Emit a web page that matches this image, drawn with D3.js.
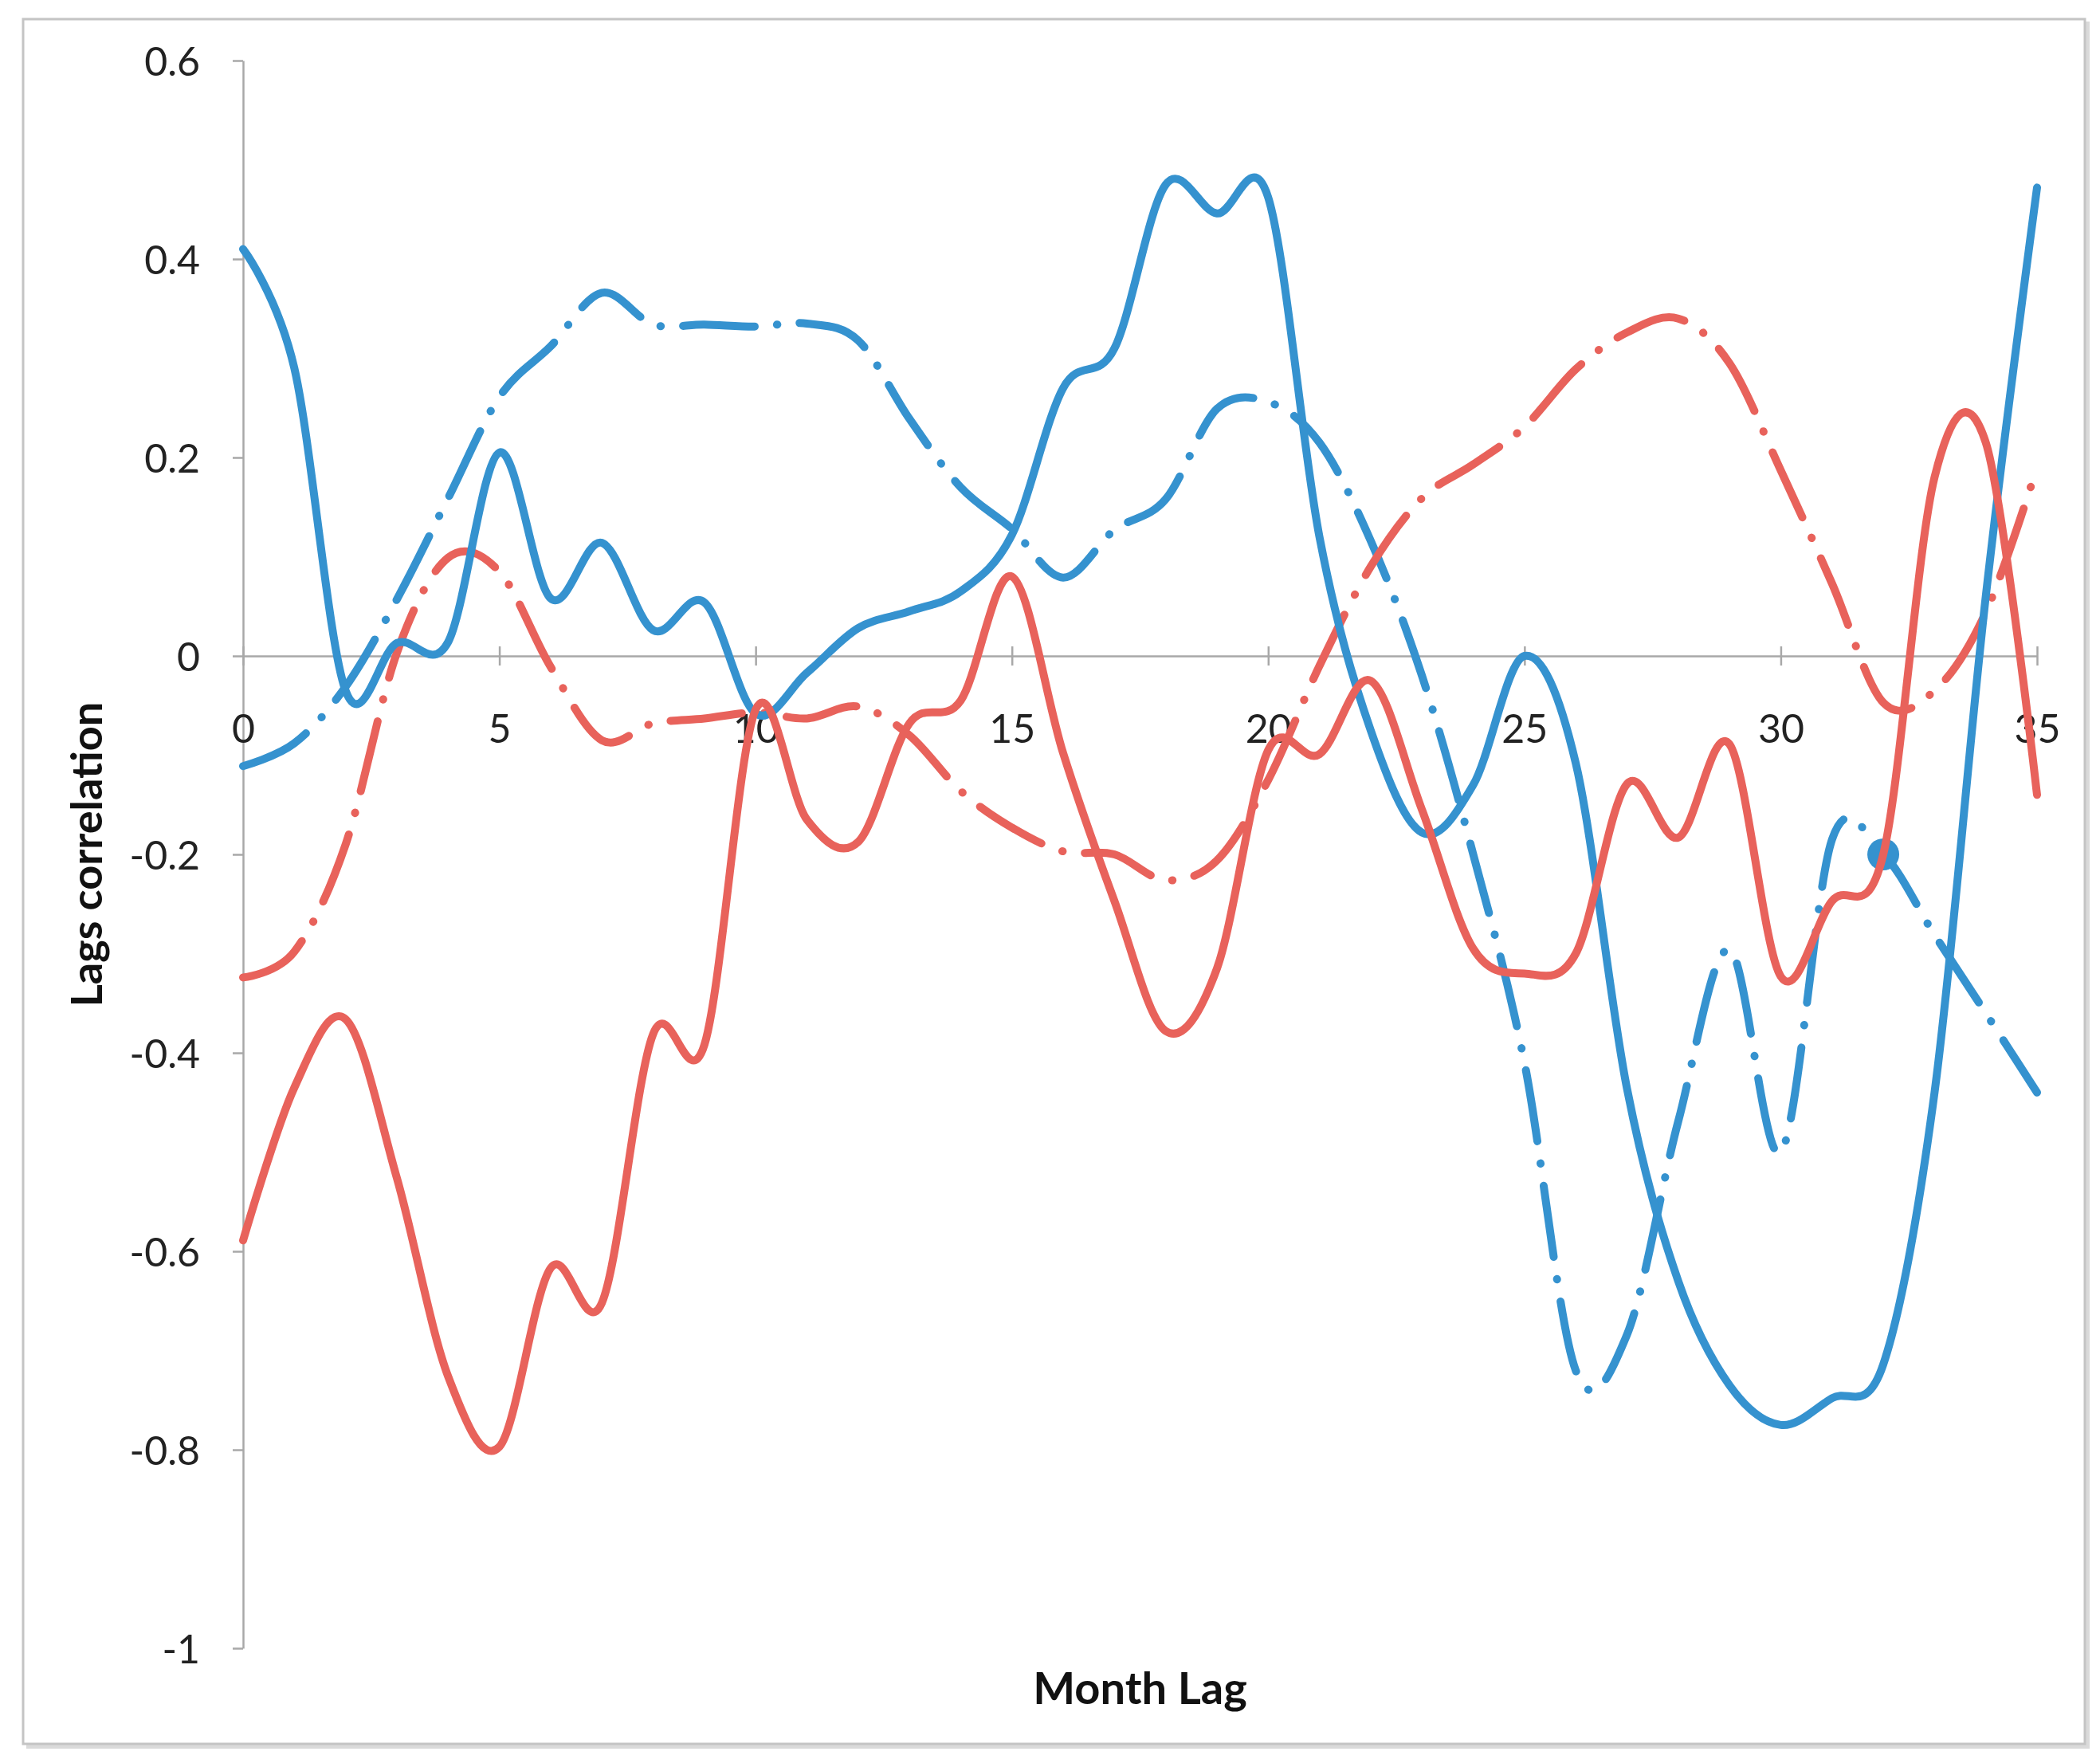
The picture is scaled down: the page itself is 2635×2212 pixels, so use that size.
<!DOCTYPE html>
<html>
<head>
<meta charset="utf-8">
<script src="https://cdn.jsdelivr.net/npm/d3@7"></script>
<style>
  body { margin: 0; background: #fff; }
  text { font-family: Lato, "Open Sans", sans-serif; }
</style>
</head>
<body>
<div id="chart-holder"></div>
<script>
// month lags on the x axis
var lags = [0, 1, 2, 3, 4, 5, 6, 7, 8, 9, 10, 11, 12, 13, 14, 15, 16, 17,
            18, 19, 20, 21, 22, 23, 24, 25, 26, 27, 28, 29, 30, 31, 32, 33, 34, 35];

// series values
var blueSolid = [0.41, 0.29, -0.035, 0.013, 0.014, 0.205, 0.058, 0.114, 0.026, 0.054, -0.058, -0.017,
                 0.028, 0.045, 0.065, 0.122, 0.27, 0.31, 0.475, 0.446, 0.462, 0.12, -0.075, -0.178,
                 -0.13, 0.0, -0.108, -0.436, -0.63, -0.735, -0.775, -0.748, -0.714, -0.44, 0.06, 0.472];
var blueDash = [-0.111, -0.088, -0.031, 0.057, 0.159, 0.261, 0.312, 0.366, 0.334, 0.334, 0.332, 0.335,
                0.318, 0.239, 0.17, 0.128, 0.079, 0.127, 0.158, 0.249, 0.256, 0.215, 0.116, -0.02,
                -0.2, -0.41, -0.72, -0.684, -0.469, -0.296, -0.5, -0.185, -0.2, -0.281, -0.36, -0.44];
var redSolid = [-0.589, -0.435, -0.366, -0.526, -0.726, -0.797, -0.617, -0.652, -0.381, -0.392, -0.054, -0.165,
                -0.1875, -0.068, -0.045, 0.08, -0.098, -0.247, -0.378, -0.315, -0.095, -0.099, -0.025, -0.155,
                -0.295, -0.32, -0.3, -0.129, -0.183, -0.089, -0.323, -0.247, -0.2, 0.18, 0.215, -0.14];
var redDash = [-0.324, -0.298, -0.19, 0.003, 0.099, 0.085, -0.011, -0.085, -0.068, -0.063, -0.057, -0.063,
               -0.051, -0.08, -0.136, -0.173, -0.197, -0.2, -0.226, -0.206, -0.125, -0.01, 0.09, 0.159,
               0.193, 0.231, 0.289, 0.326, 0.34, 0.295, 0.187, 0.073, -0.047, -0.035, 0.044, 0.19];

// the single highlighted point on the blue dash-dot line
var markerLag = 32, markerValue = -0.2;

// tick values
var xTicks = [0, 5, 10, 15, 20, 25, 30, 35];
var yTicks = [0.6, 0.4, 0.2, 0, -0.2, -0.4, -0.6, -0.8, -1];

// dimensions
var W = 2635, H = 2212;
var margin = {top: 76, right: 79, bottom: 144, left: 305},
    width = W - margin.left - margin.right,
    height = H - margin.top - margin.bottom;

var blue = "#3592cf", red = "#e8625b";

var root = d3.select("#chart-holder")
  .append("svg")
    .attr("width", W)
    .attr("height", H);

root.append("rect")
    .attr("width", W).attr("height", H)
    .attr("fill", "#fff");

// outer frame with a light shadow
root.append("path")
    .attr("d", "M2619,27 V2191 H33")
    .attr("fill", "none")
    .attr("stroke", "#dadada")
    .attr("stroke-width", 6);
root.append("rect")
    .attr("x", 29).attr("y", 24)
    .attr("width", 2587).attr("height", 2164)
    .attr("fill", "none")
    .attr("stroke", "#c4c4c4")
    .attr("stroke-width", 3);

var svg = root.append("g")
    .attr("transform", "translate(" + margin.left + "," + margin.top + ")");

var x = d3.scaleLinear()
  .domain([0, 35])
  .range([0, width]);

var y = d3.scaleLinear()
  .domain([-1, 0.6])
  .range([height, 0]);

// plain hyphen for negatives, like the spreadsheet
var fmt = function(d) { return String(+d.toFixed(1)); };

// y-axis
var yAxis = svg.append("g")
  .call(d3.axisLeft(y).tickValues(yTicks).tickSize(13).tickSizeOuter(0).tickPadding(41)
    .tickFormat(fmt));
yAxis.select(".domain").attr("stroke", "#a8a8a8").attr("stroke-width", 2.5);
yAxis.selectAll(".tick line").attr("stroke", "#a8a8a8").attr("stroke-width", 2.5);
yAxis.selectAll(".tick text")
    .attr("font-size", 50)
    .attr("fill", "#222")
    .attr("dy", "0.36em");

// x-axis sits on zero, cross ticks
var xAxis = svg.append("g")
  .attr("transform", "translate(0," + y(0) + ")")
  .call(d3.axisBottom(x).tickValues(xTicks).tickSize(12).tickSizeOuter(0).tickFormat(fmt));
xAxis.select(".domain").attr("stroke", "#a8a8a8").attr("stroke-width", 2.5);
xAxis.selectAll(".tick line")
    .attr("y1", -12)
    .attr("stroke", "#a8a8a8").attr("stroke-width", 2.5);
xAxis.selectAll(".tick text")
    .attr("y", 91)
    .attr("dy", "0.36em")
    .attr("font-size", 50)
    .attr("fill", "#222");

// axis titles
root.append("text")
    .attr("transform", "translate(109," + (margin.top + height / 2) + ")rotate(-90)")
    .attr("text-anchor", "middle")
    .attr("dy", "0.35em")
    .attr("font-size", 54)
    .attr("font-weight", "bold")
    .attr("fill", "#111")
    .text("Lags correlation");

root.append("text")
    .attr("x", margin.left + width / 2)
    .attr("y", 2118)
    .attr("text-anchor", "middle")
    .attr("dy", "0.35em")
    .attr("font-size", 56)
    .attr("font-weight", "bold")
    .attr("fill", "#111")
    .text("Month Lag");

// smoothed lines like the spreadsheet ones
var line = d3.line()
  .x(function(d, i) { return x(lags[i]); })
  .y(function(d) { return y(d); })
  .curve(d3.curveCardinal.tension(0));

var dashDot = "90,28,0.5,28";

function addLine(values, color, dash) {
  svg.append("path")
    .datum(values)
    .attr("d", line)
    .attr("fill", "none")
    .attr("stroke", color)
    .attr("stroke-width", 10)
    .attr("stroke-linecap", "round")
    .attr("stroke-linejoin", "round")
    .attr("stroke-dasharray", dash);
}

addLine(blueDash, blue, dashDot);
svg.append("circle")
    .attr("cx", x(markerLag))
    .attr("cy", y(markerValue))
    .attr("r", 20)
    .attr("fill", blue);
addLine(redDash, red, dashDot);
addLine(blueSolid, blue, null);
addLine(redSolid, red, null);
</script>
</body>
</html>
